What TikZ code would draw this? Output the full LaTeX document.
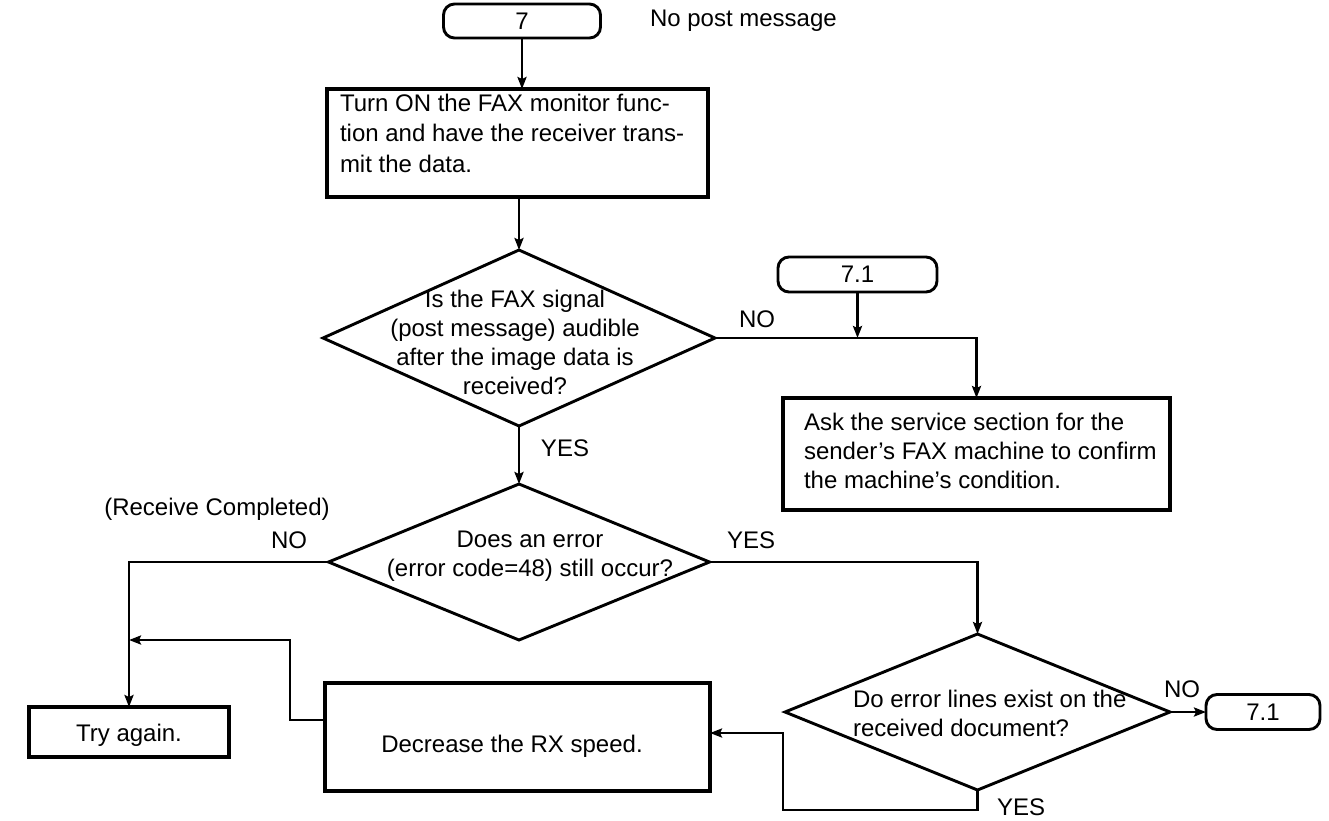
\documentclass[tikz,border=0pt]{standalone}
\usepackage{fontspec}
\setmainfont{Liberation Sans}
\usetikzlibrary{shapes.geometric,arrows.meta}
\begin{document}
\begin{tikzpicture}[x=1pt,y=-1pt,
  every node/.style={font=\fontsize{24}{29}\selectfont, inner sep=0pt, outer sep=0pt},
  ln/.style={line width=2.9pt},
  arr/.style={ln, -{Stealth[length=12pt,width=9pt,inset=2pt]}},
  boxn/.style={draw, line width=3.2pt, rectangle},
  term/.style={draw, line width=2.9pt, rectangle, rounded corners=11pt},
  dia/.style={draw, line width=2.9pt, diamond},
]
\fill[white] (0,0) rectangle (1329,820);
\useasboundingbox (0,0) rectangle (1329,820);

% nodes
\node[term, minimum width=157pt, minimum height=34pt] (T7) at (522,21) {7};
\node[anchor=west] (NP) at (650,21) {No post message};
\node[boxn, minimum width=381pt, minimum height=108pt] (B1) at (517.5,143) {};
\node[anchor=north west, align=left, font=\fontsize{24}{30.5}\selectfont] (B1t) at (340,94) {Turn ON the FAX monitor func-\\tion and have the receiver trans-\\mit the data.};
\node[dia, minimum width=392pt, minimum height=176pt] (D1) at (519,338) {};
\node[anchor=north, align=center] (D1t) at (515,290) {Is the FAX signal\\(post message) audible\\after the image data is\\received?};
\node[term, minimum width=159pt, minimum height=35pt] (T71a) at (857.5,274.5) {7.1};
\node (NO1) at (757,319) {NO};
\node[boxn, minimum width=387pt, minimum height=112pt] (B2) at (976.5,454) {};
\node[anchor=north west, align=left] (B2t) at (804,413) {Ask the service section for the\\sender's FAX machine to confirm\\the machine's condition.};
\node (YES1) at (565,448) {YES};
\node[dia, minimum width=381pt, minimum height=156pt] (D2) at (519,562) {};
\node[anchor=north, align=center] (D2t) at (530,531) {Does an error\\(error code=48) still occur?};
\node (RC) at (217,509) {(Receive Completed)};
\node (NO2) at (289,540) {NO};
\node (YES2) at (751,540) {YES};
\node[boxn, minimum width=200pt, minimum height=50pt] (TA) at (129,732) {};
\node[anchor=base] (TAt) at (129,741) {Try again.};
\node[boxn, minimum width=385pt, minimum height=108pt] (DEC) at (517.5,737) {};
\node[anchor=base] (DECt) at (512,752) {Decrease the RX speed.};
\node[dia, minimum width=385pt, minimum height=156pt] (D3) at (977.5,712) {};
\node[anchor=north west, align=left] (D3t) at (853,690) {Do error lines exist on the\\received document?};
\node[term, minimum width=114pt, minimum height=35pt] (T71b) at (1263,712) {7.1};
\node (NO3) at (1182,689) {NO};
\node (YES3) at (1021,807) {YES};

\coordinate (k1) at (290,640);
\coordinate (k4) at (783,810);

% connectors
\draw[arr] (T7.south) -- (T7.south |- B1.north);
\draw[arr] (D1.north |- B1.south) -- (D1.north);
\draw[arr] (D1.east) -| (B2.north);
\draw[arr] (T71a.south) -- (T71a.south |- D1.east);
\draw[arr] (D1.south) -- (D2.north);
\draw[arr] (D2.west) -| (TA.north);
\draw[arr] ([yshift=17pt]DEC.west) -| (k1) -- (k1 -| TA.north);
\draw[arr] (D2.east) -| (D3.north);
\draw[arr] (D3.east) -- (D3.east -| T71b.west);
\draw[arr] (D3.south) |- (k4) |- ([yshift=4pt]DEC.east);
\end{tikzpicture}
\end{document}
